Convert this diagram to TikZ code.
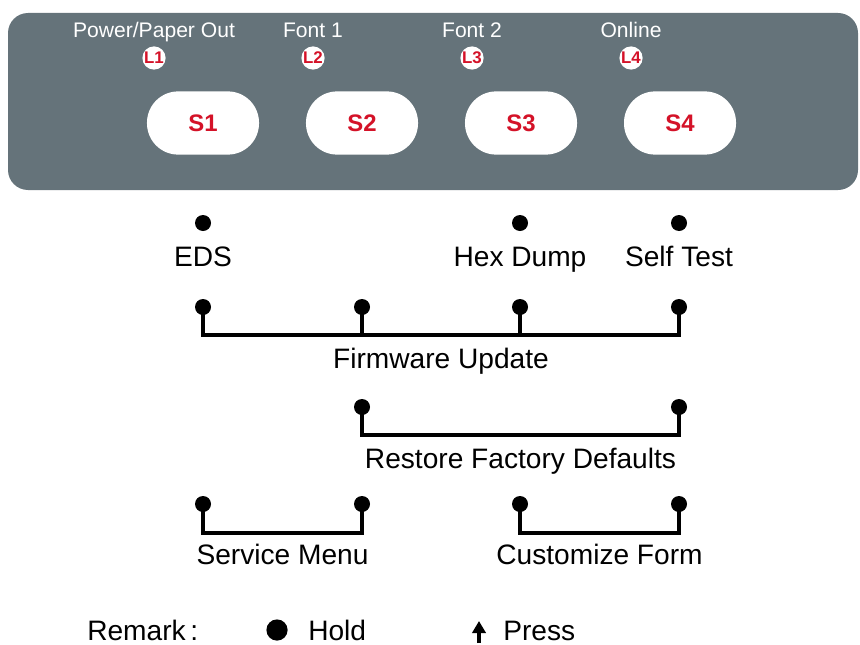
\documentclass[tikz,border=0pt]{standalone}
\usepackage{fontspec}
\setmainfont{Liberation Sans}
\usetikzlibrary{positioning,arrows.meta}
\definecolor{panelgray}{RGB}{101,115,122}
\definecolor{keyred}{RGB}{212,18,40}

\begin{document}
\begin{tikzpicture}[x=0.025cm,y=-0.025cm,
	btn/.style={rectangle, rounded corners=0.78cm, fill=white, minimum width=2.8cm, minimum height=1.58cm,
		text=keyred, font=\fontsize{17}{20}\selectfont\bfseries},
	led/.style={circle, fill=white, inner sep=0pt, minimum size=0.58cm,
		text=keyred, font=\fontsize{12}{14}\selectfont\bfseries},
	ledname/.style={text=white, inner sep=0pt, text depth=0pt, font=\fontsize{15}{18}\selectfont},
	dot/.style={circle, fill=black, inner sep=0pt, minimum size=0.4cm},
	txt/.style={inner sep=0pt, text height=14.3pt, text depth=0pt, font=\fontsize{20}{24}\selectfont},
	bar/.style={line width=0.09cm}]
	\useasboundingbox (0,0) rectangle (860,644);
	\fill[panelgray, rounded corners=0.5cm] (8,13) rectangle (858,190);
	%%%%%%%%%% keys and lamps
	\node[btn] (s1) at (203,123) {S1};
	\node[btn, right=1.16cm of s1] (s2) {S2};
	\node[btn, right=1.16cm of s2] (s3) {S3};
	\node[btn, right=1.16cm of s3] (s4) {S4};
	\node[led] (l1) at ([shift={(-49,-65)}]s1.center) {L1};
	\node[led] (l2) at ([shift={(-49,-65)}]s2.center) {L2};
	\node[led] (l3) at ([shift={(-49,-65)}]s3.center) {L3};
	\node[led] (l4) at ([shift={(-49,-65)}]s4.center) {L4};
	\node[ledname, above=0.22cm of l1] {Power/Paper Out};
	\node[ledname, above=0.22cm of l2] {Font 1};
	\node[ledname, above=0.22cm of l3] {Font 2};
	\node[ledname, above=0.22cm of l4] {Online};
	%%%%%%%%%% single keys
	\node[dot] (e1) at (203,223) {};
	\node[dot] (e3) at (520,223) {};
	\node[dot] (e4) at (679,223) {};
	\node[txt, below=0.37cm of e1] {EDS};
	\node[txt, below=0.37cm of e3] {Hex Dump};
	\node[txt, below=0.37cm of e4] {Self Test};
	%%%%%%%%%% combinations
	\node[dot] (f1) at (203,307) {};
	\node[dot] (f2) at (362,307) {};
	\node[dot] (f3) at (520,307) {};
	\node[dot] (f4) at (679,307) {};
	\draw[bar] (f1.center) -- ++(0,28) -| node[txt, pos=0.25, below=0.28cm] {Firmware Update} (f4.center);
	\draw[bar] (f2.center) -- ++(0,28);
	\draw[bar] (f3.center) -- ++(0,28);
	%%%%%%%%%%
	\node[dot] (r2) at (362,407) {};
	\node[dot] (r4) at (679,407) {};
	\draw[bar] (r2.center) -- ++(0,28) -| node[txt, pos=0.25, below=0.28cm] {Restore Factory Defaults} (r4.center);
	%%%%%%%%%%
	\node[dot] (v1) at (203,504) {};
	\node[dot] (v2) at (362,504) {};
	\node[dot] (c3) at (520,504) {};
	\node[dot] (c4) at (679,504) {};
	\draw[bar] (v1.center) -- ++(0,29) -| node[txt, pos=0.25, below=0.23cm] {Service Menu} (v2.center);
	\draw[bar] (c3.center) -- ++(0,29) -| node[txt, pos=0.25, below=0.23cm] {Customize Form} (c4.center);
	%%%%%%%%%% remark
	\node[txt, anchor=base west] (rem) at (87,640) {Remark\,:};
	\node[dot, minimum size=0.53cm] (hd) at (277,630) {};
	\node[txt, anchor=base west] (hold) at (308,640) {Hold};
	\coordinate (pa) at (479,643);
	\draw[line width=0.08cm, -{Triangle[width=0.33cm,length=0.3cm]}] (pa) -- ++(0,-22);
	\node[txt, anchor=base west] (press) at (503,640) {Press};
\end{tikzpicture}
\end{document}
